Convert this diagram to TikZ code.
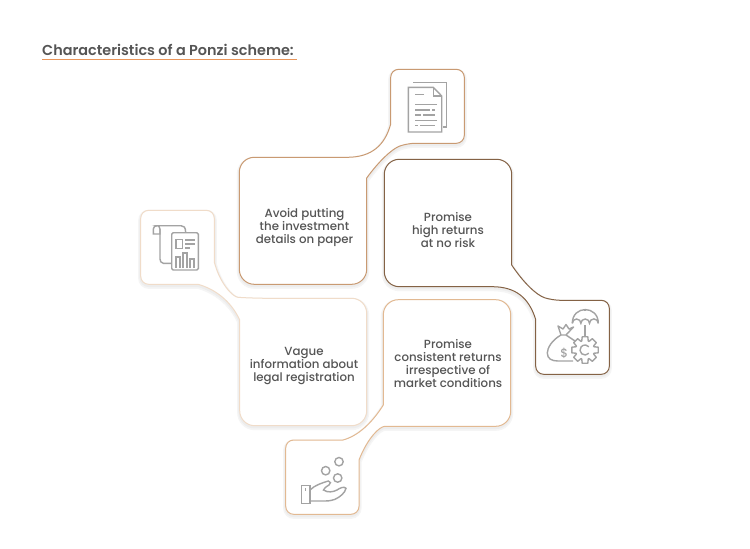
\documentclass[tikz,border=0pt]{standalone}
\usepackage{fontspec}
\setmainfont{Poppins Medium}
\newfontfamily\titlefont{Poppins SemiBold}
\definecolor{inktext}{HTML}{555555}
\definecolor{iconcol}{HTML}{A3A3A3}
\definecolor{edgedoc}{HTML}{C99A72}
\definecolor{edgerisk}{HTML}{846245}
\definecolor{edgereg}{HTML}{F0DCC9}
\definecolor{edgehand}{HTML}{E2B992}
\definecolor{titleline}{HTML}{E8955A}

\begin{document}
\begin{tikzpicture}[x=1pt,y=-1pt,>=latex,
		lbl/.style={align=center, inner sep=0pt, text=inktext, font=\fontsize{11.8}{13}\selectfont},
		card/.style={line width=1pt, line join=round,
			preaction={draw=black!4, line width=5pt, transform canvas={yshift=-2pt}},
			preaction={draw=black!7, line width=2.5pt, transform canvas={yshift=-1.5pt}},
			preaction={fill=white}},
		ico/.style={draw=iconcol, line width=1.4pt, line join=miter}]
	\useasboundingbox (0,0) rectangle (750,549);
	\fill[white] (0,0) rectangle (750,549);

	\node[anchor=base west, inner sep=0pt, text=inktext, font=\fontsize{14.4}{16}\titlefont] (title) at (42,55) {Characteristics of a Ponzi scheme:};
	\coordinate (ruleL) at (42,59.5);
	\coordinate (ruleR) at (297,59.5);
	\draw[draw=titleline, line width=1.6pt] (ruleL) -- (ruleR);

	%% ========================================================
	\begin{scope}
		\draw[card, draw=edgereg] (198,284.3) .. controls (215,289) and (231,301) .. (239.7,320) [rounded corners=15pt] -- (239.7,425.7) -- (366.7,425.7) -- (366.7,298.3) -- (253,298.3) [sharp corners] .. controls (233,297) and (220,284) .. (214.3,262) [rounded corners=8pt] -- (214.3,210.3) -- (140.7,210.3) -- (140.7,284.3) -- (198,284.3);
		\node[lbl] (vague) at (304,365.5) {Vague\\information about\\legal registration};
	\end{scope}
	%% ========================================================
	\begin{scope}
		\draw[card, draw=edgedoc] (348,157.3) .. controls (372,157) and (385,145) .. (390.7,124) [rounded corners=8pt] -- (390.7,69.3) -- (464.3,69.3) -- (464.3,143.3) -- (407,143.3) [sharp corners] .. controls (392,149) and (379,161) .. (366.7,178) [rounded corners=15pt] -- (366.7,284.3) -- (239.3,284.3) -- (239.3,157.3) -- (348,157.3);
		\node[lbl] (avoid) at (304.5,227) {Avoid putting\\the investment\\details on paper};
	\end{scope}
	%% ========================================================
	\begin{scope}
		\draw[card, draw=edgehand] (343,440) .. controls (358,436) and (372,423) .. (383.3,405) [rounded corners=15pt] -- (383.3,299.7) -- (510.7,299.7) -- (510.7,426.3) -- (400,426.3) [sharp corners] .. controls (380,426.3) and (368,437) .. (359,460) [rounded corners=8pt] -- (359,514.3) -- (285.7,514.3) -- (285.7,440) -- (343,440);
		\node[lbl] (steady) at (448,363.5) {Promise\\consistent returns\\irrespective of\\market conditions};
	\end{scope}
	%% ========================================================
	\begin{scope}
		\draw[card, draw=edgerisk] (493,286.7) .. controls (516,287) and (529,298) .. (535.7,319.5) [rounded corners=8pt] -- (535.7,374.3) -- (609.3,374.3) -- (609.3,300.3) -- (552.5,300.3) [sharp corners] .. controls (536,295) and (523,282) .. (511.7,265) [rounded corners=15pt] -- (511.7,159.3) -- (384.3,159.3) -- (384.3,286.7) -- (493,286.7);
		\node[lbl] (risk) at (448,230) {Promise\\high returns\\at no risk};
	\end{scope}
	%% ========================================================
	% paper icon
	\begin{scope}
		\draw[ico] (413.3,82.7) -- (446.7,82.7) -- (446.7,127) -- (442.7,127);
		\draw[ico] (408.3,87.3) -- (433.3,87.3) -- (441.7,96) -- (441.7,132) -- (408.3,132) -- cycle;
		\draw[ico] (433.3,87.3) -- (433.3,96) -- (441.7,96);
		\foreach \ya/\xa/\xb/\xc in {94.7/415/422/422, 104.3/415/435/435, 110/415/430/435, 115/415/421/435, 120.3/415/435/435, 125.3/415/418/435}
			\draw[ico, line width=1.1pt] (\xa,\ya) -- (\xb,\ya) (\xb+2,\ya) -- (\xc,\ya);
	\end{scope}
	% report icon
	\begin{scope}
		\draw[ico] (171.7,263.3) -- (163.3,263.3) .. controls (161,263) and (160,261) .. (160,259) -- (160,229) .. controls (160,226) and (158,225.7) .. (157,225.7) -- (181,225.7) .. controls (184,225.7) and (185.5,227) .. (185.7,232.7);
		\draw[ico] (160,229) -- (160,234) -- (153.3,234) -- (153.3,229) .. controls (153.3,227) and (155,225.7) .. (157,225.7);
		\draw[ico, rounded corners=1.5pt] (171.7,232.7) rectangle (198.3,270);
		\draw[ico] (176,239.3) rectangle (182.7,248.3);
		\foreach \ya/\xb in {240/195, 244/195, 248/190}
			\draw[ico] (185,\ya) -- (\xb,\ya);
		\foreach \xa/\ya in {176/257, 183/253, 190/259}
			\draw[ico] (\xa,267.5) -- (\xa,\ya) -- (\xa+4,\ya) -- (\xa+4,267.5);
	\end{scope}
	% hand icon
	\begin{scope}
		\draw[ico] (301.7,485.7) rectangle (310,503.3);
		\draw[ico] (305.7,488) -- (305.7,491);
		\draw[ico] (339,461.7) circle (4.2);
		\draw[ico] (325.7,470.7) circle (4.2);
		\draw[ico] (337.7,478) circle (4.2);
		\draw[ico] (310,490) .. controls (315,485) and (322,483) .. (328.3,481) .. controls (331,481) and (331,484) .. (329,485) .. controls (326,487) and (324,488) .. (323.5,490) .. controls (328,493) and (333,492) .. (337,490) .. controls (340,488) and (344,486) .. (346,488.3) .. controls (345,493) and (340,497) .. (335,499.3) .. controls (330,501) and (327,501) .. (325,501) -- (310,501);
	\end{scope}
	% money icon
	\begin{scope}
		\draw[ico] (572.3,323.3) .. controls (572.3,305) and (598.3,305) .. (598.3,323.3);
		\draw[ico] (572.3,323.3) arc[start angle=180, end angle=360, radius=4.3] arc[start angle=180, end angle=360, radius=4.3] arc[start angle=180, end angle=360, radius=4.4];
		\draw[ico] (585,311) -- (585,309);
		\draw[ico] (585,325) -- (585,336);
		\draw[ico, line join=round] ([shift={(585,350)}]-20:9.5) \foreach \a in {0,45,...,315} { -- ([shift={(585,350)}]\a-20:9.5) -- ([shift={(585,350)}]\a-12:13.5) -- ([shift={(585,350)}]\a+12:13.5) -- ([shift={(585,350)}]\a+20:9.5)} -- cycle;
		\draw[ico] ([shift={(585,350)}]40:5) arc[start angle=40, end angle=320, radius=5];
		\draw[ico] (561,335) .. controls (552,340) and (547.3,348) .. (547.3,353) .. controls (547.3,359) and (552,361) .. (558,361) -- (573,361);
		\draw[ico] (566,335) .. controls (569,337) and (572,339) .. (575,341);
		\draw[ico, line join=round] (561,335) -- (558,326) -- (563,329) -- (566,324.5) -- (569,329) -- (573.5,327) -- (566,335) -- cycle;
		\node[inner sep=0pt, text=iconcol, font=\fontsize{12}{14}\selectfont] (dollar) at (564.3,353.3) {\$};
	\end{scope}
	%% ========================================================
\end{tikzpicture}
\end{document}
